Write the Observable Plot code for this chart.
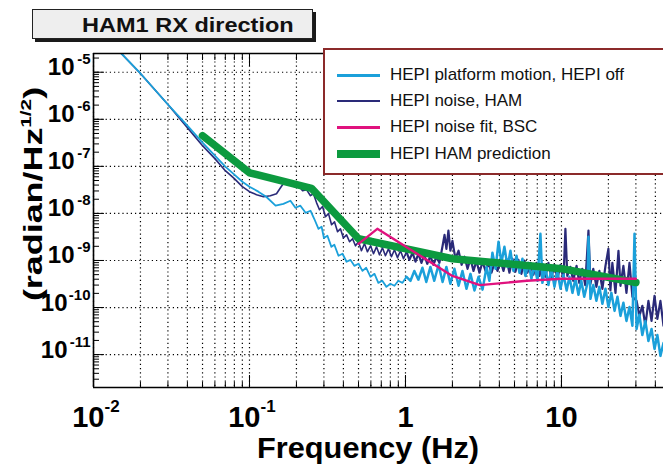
<!DOCTYPE html>
<html>
<head>
<meta charset="utf-8">
<script src="https://cdn.jsdelivr.net/npm/d3@7"></script>
<script src="https://cdn.jsdelivr.net/npm/@observablehq/plot@0.6"></script>
<style>
  html, body { margin: 0; padding: 0; background: #fff; overflow: hidden; }
  body { font-family: "Liberation Sans", Arial, Helvetica, sans-serif; }
  #wrap { position: relative; width: 663px; height: 466px; overflow: hidden; }
  #chart svg { display: block; overflow: hidden; }
  .titlebox { position: absolute; left: 32px; top: 9px; width: 281px; height: 30px; box-sizing: border-box;
    border: 1px solid #222; background: #eeeeee; box-shadow: 3px 3px 0 #1a1a1a; }
  .titlebox span { position: absolute; left: 49px; top: 0; line-height: 30px; font-size: 21px; font-weight: bold;
    white-space: nowrap; transform: scaleX(1.12); transform-origin: left center; color: #111; }
  .legend { position: absolute; left: 323px; top: 48px; width: 360px; height: 127px; box-sizing: border-box;
    border: 2.5px solid #8b2a2a; background: #fff; }
  .legend .row { position: absolute; left: 0; height: 20px; line-height: 20px; width: 340px; font-size: 17px; color: #111; white-space: nowrap; }
  .legend .sw { position: absolute; left: 12px; width: 43px; }
  .legend .lbl { position: absolute; left: 65px; top: 0; }
  .xlabel { position: absolute; left: 257px; top: 438px; font-size: 29px; font-weight: bold; line-height: 20px; white-space: nowrap; color: #000;
    transform: scaleX(1.06); transform-origin: left center; }
  .ylabel { position: absolute; left: 33px; top: 194px; font-size: 26px; font-weight: bold; white-space: nowrap; color: #000;
    transform: translate(-50%, -50%) rotate(-90deg) scaleX(1.38); line-height: 26px; }
  .ylabel sup { font-size: 15px; vertical-align: 11px; line-height: 0; }
</style>
</head>
<body>
<div id="wrap">
  <div id="chart"></div>
  <div class="titlebox"><span>HAM1 RX direction</span></div>
  <div class="legend" id="legend"></div>
  <div class="xlabel">Frequency (Hz)</div>
  <div class="ylabel">(radian/Hz<sup>1/2</sup>)</div>
</div>
<script>
// ---------- data ----------
const seriesNames = ["HEPI platform motion, HEPI off", "HEPI noise, HAM", "HEPI noise fit, BSC", "HEPI HAM prediction"];
const seriesColors = ["#1ba0da", "#2a2a78", "#e0127e", "#0c9a3f"];

// [frequency Hz, amplitude radian/sqrt(Hz)]
const platformHepiOff = [
  [0.0138,3.4e-5],[0.02,9.4e-6],[0.03,2.06e-6],[0.04,7.3e-7],[0.05,3.2e-7],[0.06,1.69e-7],[0.07,9.9e-8],[0.08,6.65e-8],[0.09,4.7e-8],[0.1,3.7e-8],
  [0.114,2.9e-8],[0.128,2.26e-8],[0.147,1.46e-8],[0.165,1.6e-8],[0.183,1.86e-8],[0.197,1.32e-8],[0.212,1.46e-8],[0.229,1.03e-8],[0.246,1.14e-8],[0.26,7.7e-9],
  [0.277,4.7e-9],[0.29,5.2e-9],[0.30,3.0e-9],[0.316,3.35e-9],[0.335,1.95e-9],[0.35,2.16e-9],[0.372,1.26e-9],[0.395,1.39e-9],[0.419,9.4e-10],[0.444,1.03e-9],
  [0.47,7.7e-10],[0.5,8.5e-10],[0.53,6.0e-10],[0.56,7.0e-10],[0.597,4.5e-10],[0.633,5.2e-10],[0.67,3.35e-10],[0.71,3.7e-10],[0.755,2.75e-10],[0.8,3.2e-10],
  [0.85,2.9e-10],[0.9,3.7e-10],[0.957,3.35e-10],
  [1.015,4.5e-10],[1.077,3.7e-10],[1.14,6.0e-10],[1.21,3.9e-10],[1.285,7.0e-10],[1.36,3.5e-10],[1.445,7.3e-10],[1.53,3.7e-10],[1.63,8.1e-10],[1.73,3.5e-10],
  [1.83,7.3e-10],[1.94,3.2e-10],[2.06,6.65e-10],[2.19,2.9e-10],[2.32,6.0e-10],[2.46,2.5e-10],[2.61,5.2e-10],[2.77,2.3e-10],[2.94,4.5e-10],[3.12,2.4e-10],
  [3.31,7.3e-10],[3.45,3.7e-10],[3.61,1.46e-9],[3.78,6.65e-10],[3.95,2.5e-9],[4.12,8.9e-10],[4.31,1.95e-9],[4.51,7.3e-10],[4.71,1.61e-9],[4.92,6.0e-10],
  [5.15,1.26e-9],[5.38,5.5e-10],[5.62,1.09e-9],[5.87,4.7e-10],[6.14,8.9e-10],[6.42,4.1e-10],[6.71,8.1e-10],[7.02,3.7e-10],[7.33,3.7e-9],[7.55,3.35e-10],
  [7.89,7.3e-10],[8.25,3.0e-10],[8.62,6.65e-10],[9.02,2.75e-10],[9.42,6.0e-10],[9.86,2.5e-10],[10.3,5.0e-10],[10.8,2.3e-10],[11.25,4.5e-10],[11.76,2.05e-10],
  [12.3,4.1e-10],[12.85,1.86e-10],[13.4,3.7e-10],[14.0,1.69e-10],[14.7,3.35e-10],[14.9,3.2e-9],[15.35,1.53e-10],[16.0,3.0e-10],[16.75,1.39e-10],[17.5,2.75e-10],
  [18.3,1.2e-10],[19.15,2.5e-10],[20.0,1.03e-10],[20.9,2.05e-10],[21.9,8.5e-11],[22.85,1.69e-10],[23.9,6.65e-11],[24.95,1.26e-10],[26.1,5.2e-11],[27.3,1.03e-10],
  [28.5,4.1e-11],[29.4,3.7e-9],[30.3,3.5e-11],[31.6,7.0e-11],[33.0,2.6e-11],[34.5,5.2e-11],[36.1,1.95e-11],[37.8,3.5e-11],[39.5,1.32e-11],[41.2,2.6e-11],
  [43.1,9.4e-12],[45.1,1.77e-11]
];

const hepiNoiseHam = [
  [0.0138,3.4e-5],[0.02,9.4e-6],[0.03,2.06e-6],[0.04,6.65e-7],[0.05,2.75e-7],[0.06,1.46e-7],[0.07,8.1e-8],[0.08,5.5e-8],[0.09,3.7e-8],[0.1,2.9e-8],
  [0.111,2.5e-8],[0.123,2.26e-8],[0.136,2.38e-8],[0.149,2.62e-8],[0.158,3.5e-8],[0.168,4.7e-8],[0.175,4.1e-8],[0.183,4.5e-8],[0.194,3.7e-8],[0.206,3.9e-8],
  [0.219,3.04e-8],[0.232,3.2e-8],[0.246,2.38e-8],[0.257,2.62e-8],[0.269,1.7e-8],[0.281,1.2e-8],[0.294,1.4e-8],[0.307,8.5e-9],[0.321,9.9e-9],[0.336,5.75e-9],
  [0.351,6.6e-9],[0.367,4.1e-9],[0.383,4.7e-9],[0.40,3.0e-9],[0.419,3.5e-9],[0.438,2.5e-9],[0.458,2.9e-9],[0.478,2.05e-9],[0.5,2.5e-9],[0.522,1.61e-9],
  [0.546,2.3e-9],[0.57,1.53e-9],[0.597,2.05e-9],[0.624,1.39e-9],[0.652,1.95e-9],[0.681,1.32e-9],[0.712,1.86e-9],[0.744,1.26e-9],[0.778,1.77e-9],[0.813,1.2e-9],
  [0.85,1.69e-9],[0.889,1.14e-9],[0.929,1.61e-9],[0.971,1.09e-9],[1.015,1.53e-9],[1.06,1.03e-9],[1.11,1.46e-9],[1.16,9.4e-10],[1.21,1.39e-9],[1.266,8.9e-10],
  [1.32,1.32e-9],[1.38,8.5e-10],[1.445,1.26e-9],[1.51,8.1e-10],[1.58,1.2e-9],[1.65,8.9e-10],[1.73,2.05e-9],[1.78,3.5e-9],[1.83,1.77e-9],[1.885,4.3e-9],
  [1.94,1.61e-9],[2.0,2.6e-9],[2.09,1.09e-9],[2.19,1.61e-9],[2.29,8.1e-10],[2.39,1.2e-9],[2.5,6.65e-10],[2.61,1.09e-9],[2.73,6.0e-10],[2.85,9.9e-10],
  [2.98,5.5e-10],[3.12,9.4e-10],[3.26,6.0e-10],[3.4,8.9e-10],[3.56,5.5e-10],[3.72,8.9e-10],[3.89,6.0e-10],[4.06,9.9e-10],[4.25,6.0e-10],[4.44,1.09e-9],
  [4.64,5.5e-10],[4.85,1.09e-9],[5.07,5.75e-10],[5.3,1.03e-9],[5.54,5.2e-10],[5.79,9.9e-10],[6.05,5.5e-10],[6.33,8.9e-10],[6.61,5.0e-10],[6.91,8.9e-10],
  [7.23,4.7e-10],[7.55,8.5e-10],[7.89,4.5e-10],[8.25,8.9e-10],[8.62,4.3e-10],[9.02,8.1e-10],[9.42,4.1e-10],[9.86,8.1e-10],[10.3,3.9e-10],[10.6,4.7e-9],
  [10.9,4.7e-10],[11.4,7.3e-10],[11.9,3.7e-10],[12.5,7.7e-10],[13.0,3.35e-10],[13.6,6.65e-10],[14.2,3.0e-10],[14.9,4.3e-9],[15.35,3.2e-10],[16.0,6.65e-10],
  [16.75,2.75e-10],[17.5,6.0e-10],[18.3,2.5e-10],[19.15,7.7e-10],[20.0,1.77e-9],[20.6,2.3e-10],[21.2,8.9e-10],[22.2,2.05e-10],[23.2,1.61e-9],[23.9,2.9e-10],
  [24.95,7.7e-10],[26.1,2.05e-10],[27.3,8.9e-10],[28.5,1.69e-10],[30.3,1.39e-10],[31.6,6.65e-11],[33.0,1.09e-10],[34.5,4.1e-11],[36.1,1.39e-10],[37.8,5.2e-11],
  [39.5,1.77e-10],[41.2,5.75e-11],[43.1,1.39e-10],[45.1,4.1e-11]
];

const hepiFitBsc = [[0.5,2.26e-9],[0.66,4.7e-9],[2.0,4.7e-10],[3.0,3.0e-10],[6.0,3.7e-10],[10,4.1e-10],[30,4.1e-10]];

const hamPrediction = [[0.05,4.5e-7],[0.1,7.3e-8],[0.25,3.4e-8],[0.5,2.9e-9],[2.0,1.09e-9],[10,6.7e-10],[30,3.4e-10]];

const xDomain = [0.01, 45.1];
const yDomain = [2e-12, 2.5e-5];
const noisyFrom = 1.015; // frequency where the measured spectra become broadband noise
const xMajorTicks = [0.1, 1, 10];
const yMajorTicks = [1e-5, 1e-6, 1e-7, 1e-8, 1e-9, 1e-10, 1e-11];
const xTickLabels = [
  {f: 0.01, base: "10", exp: "-2"},
  {f: 0.1, base: "10", exp: "-1"},
  {f: 1, base: "1", exp: ""},
  {f: 10, base: "10", exp: ""}
];
const yTickLabels = [
  {v: 1e-5, exp: "-5"}, {v: 1e-6, exp: "-6"}, {v: 1e-7, exp: "-7"}, {v: 1e-8, exp: "-8"},
  {v: 1e-9, exp: "-9"}, {v: 1e-10, exp: "-10"}, {v: 1e-11, exp: "-11"}
];

// ---------- chart ----------
const pt = {x: d => d[0], y: d => d[1]};
const gridStyle = {stroke: "#000", strokeOpacity: 1, strokeWidth: 1.2, strokeDasharray: "1.2,3"};
const bold = {fontWeight: "bold"};
const early = d => d[0] <= noisyFrom;
const late = d => d[0] >= noisyFrom;

const chart = Plot.plot({
  width: 663,
  height: 466,
  marginLeft: 93,
  marginRight: 0,
  marginTop: 53,
  marginBottom: 79,
  style: {fontFamily: "'Liberation Sans', Arial, Helvetica, sans-serif", background: "transparent", color: "#000"},
  x: {type: "log", domain: xDomain, axis: null},
  y: {type: "log", domain: yDomain, axis: null},
  marks: [
    Plot.gridX({ticks: 20, ...gridStyle}),
    Plot.gridY({ticks: yMajorTicks, ...gridStyle}),
    Plot.line(hepiNoiseHam.filter(early), {...pt, stroke: seriesColors[1], strokeWidth: 1.6, clip: true}),
    Plot.line(hepiNoiseHam.filter(late), {...pt, stroke: seriesColors[1], strokeWidth: 2.2, clip: true}),
    Plot.line(platformHepiOff.filter(early), {...pt, stroke: seriesColors[0], strokeWidth: 1.8, clip: true}),
    Plot.line(platformHepiOff.filter(late), {...pt, stroke: seriesColors[0], strokeWidth: 2.5, clip: true}),
    Plot.line(hamPrediction, {...pt, stroke: seriesColors[3], strokeWidth: 7.5, clip: true}),
    Plot.line(hepiFitBsc, {...pt, stroke: seriesColors[2], strokeWidth: 2.4, clip: true}),
    Plot.ruleX([xDomain[0]], {stroke: "#000", strokeWidth: 1.6}),
    Plot.ruleY(yDomain, {stroke: "#000", strokeWidth: 1.6}),
    Plot.axisX({anchor: "bottom", ticks: 20, tickSize: -5, tickFormat: () => "", label: null}),
    Plot.axisX({anchor: "bottom", ticks: xMajorTicks, tickSize: -12, tickFormat: () => "", label: null}),
    Plot.axisX({anchor: "top", ticks: 20, tickSize: -6, tickFormat: () => "", label: null}),
    Plot.axisX({anchor: "top", ticks: xMajorTicks, tickSize: -12, tickFormat: () => "", label: null}),
    Plot.axisY({anchor: "left", ticks: 20, tickSize: -6, tickFormat: () => "", label: null}),
    Plot.axisY({anchor: "left", ticks: yMajorTicks, tickSize: -11, tickFormat: () => "", label: null}),
    // y tick labels 10^n
    Plot.text(yTickLabels, {y: "v", text: "exp", frameAnchor: "left", textAnchor: "end", dx: -3, dy: -8, lineAnchor: "bottom", fontSize: 15, ...bold}),
    Plot.text(yTickLabels.filter(d => d.exp.length === 2), {y: "v", text: () => "10", frameAnchor: "left", textAnchor: "end", dx: -19, dy: 3, lineAnchor: "bottom", fontSize: 24, ...bold}),
    Plot.text(yTickLabels.filter(d => d.exp.length === 3), {y: "v", text: () => "10", frameAnchor: "left", textAnchor: "end", dx: -26, dy: 3, lineAnchor: "bottom", fontSize: 24, ...bold}),
    // x tick labels
    Plot.text(xTickLabels.filter(d => d.exp), {x: "f", text: "base", frameAnchor: "bottom", textAnchor: "end", dx: 11, dy: 39, lineAnchor: "bottom", fontSize: 29, ...bold}),
    Plot.text(xTickLabels.filter(d => d.exp), {x: "f", text: "exp", frameAnchor: "bottom", textAnchor: "start", dx: 11, dy: 24, lineAnchor: "bottom", fontSize: 17, ...bold}),
    Plot.text(xTickLabels.filter(d => !d.exp), {x: "f", text: "base", frameAnchor: "bottom", textAnchor: "middle", dy: 39, lineAnchor: "bottom", fontSize: 29, ...bold})
  ]
});
document.getElementById("chart").appendChild(chart);

// ---------- legend ----------
const legendRowTops = [15, 41, 67, 94];
const legendWidths = [3, 2.2, 3, 8];
const legend = document.getElementById("legend");
seriesNames.forEach((name, i) => {
  const row = document.createElement("div");
  row.className = "row";
  row.style.top = legendRowTops[i] + "px";
  const sw = document.createElement("div");
  sw.className = "sw";
  sw.style.height = legendWidths[i] + "px";
  sw.style.top = (10 - legendWidths[i] / 2) + "px";
  sw.style.background = seriesColors[i];
  const lbl = document.createElement("span");
  lbl.className = "lbl";
  lbl.textContent = name;
  row.appendChild(sw);
  row.appendChild(lbl);
  legend.appendChild(row);
});
</script>
</body>
</html>
